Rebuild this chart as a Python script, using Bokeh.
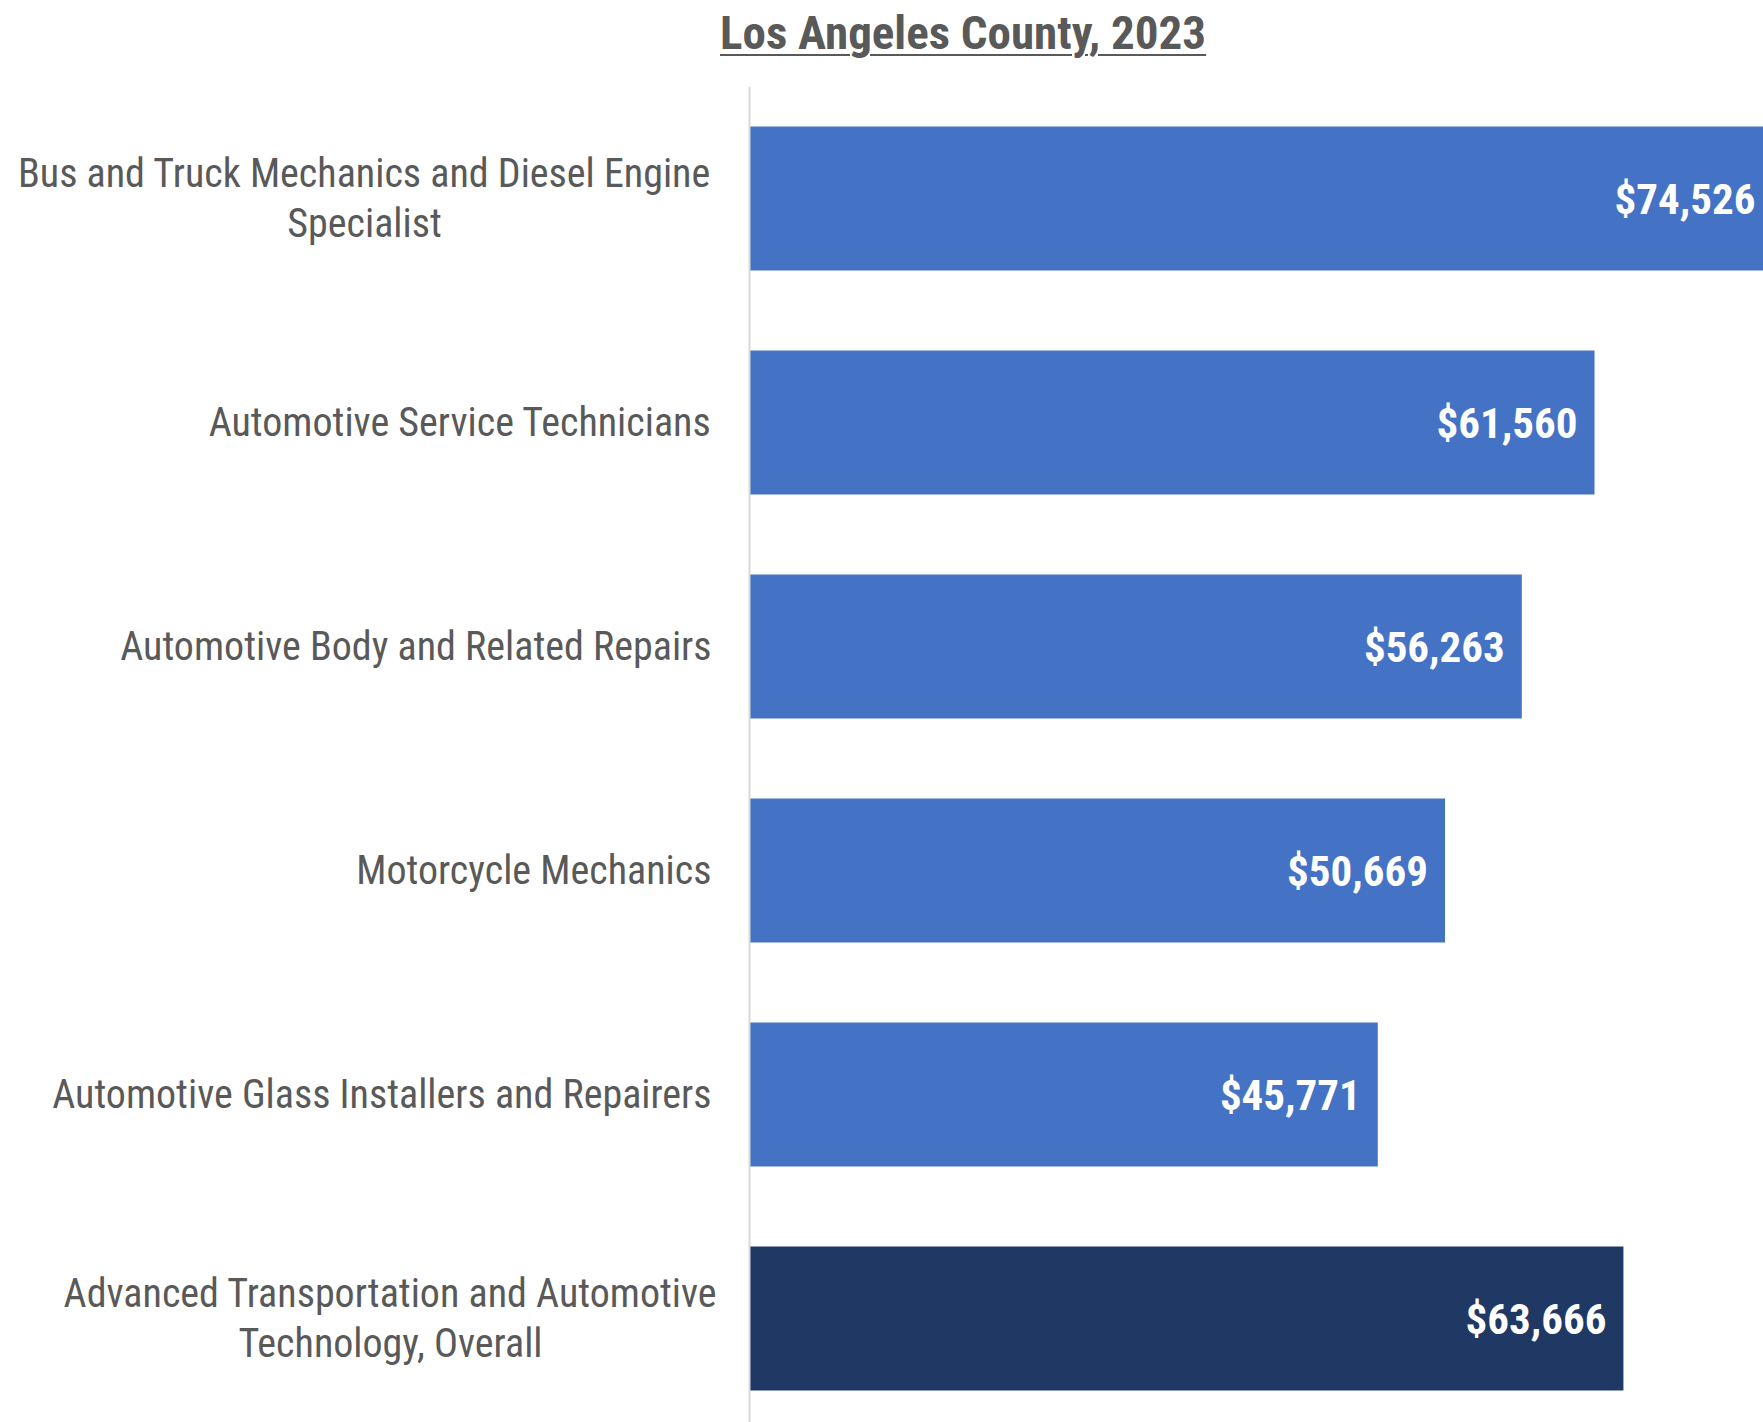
from bokeh.plotting import figure
from bokeh.models import Range1d, ColumnDataSource, Div, Span
from bokeh.layouts import column
from bokeh.core.properties import value
from bokeh.embed import file_html
from bokeh.resources import INLINE

title_text = "Los Angeles County, 2023"
categories = [
    "Bus and Truck Mechanics and Diesel Engine\nSpecialist",
    "Automotive Service Technicians",
    "Automotive Body and Related Repairs",
    "Motorcycle Mechanics",
    "Automotive Glass Installers and Repairers",
    "Advanced Transportation and Automotive\nTechnology, Overall",
]
wages = [74526, 61560, 56263, 50669, 45771, 63666]

FONT = "Roboto Condensed"
BLUE = "#4472C4"
DARK = "#203864"
GREY = "#595959"
LABEL_SIZE = "40px"

idx = list(range(len(categories)))
colors = [BLUE] * (len(categories) - 1) + [DARK]
labels = ["${:,}".format(v) for v in wages]

src = ColumnDataSource(dict(y=idx, right=wages, color=colors, label=labels))

p = figure(width=1763, height=1336, output_backend="svg", toolbar_location=None,
           x_range=Range1d(-54564, 73870), y_range=Range1d(5.464, -0.5),
           x_axis_location=None, y_axis_location=None,
           min_border_left=0, min_border_right=0,
           min_border_top=0, min_border_bottom=0)
p.outline_line_color = None
p.grid.visible = False
p.background_fill_color = "white"

# category axis line
p.add_layout(Span(location=0, dimension="height", line_color="#d9d9d9", line_width=2))

p.hbar(y="y", right="right", left=0, height=0.643, fill_color="color",
       line_color=None, source=src)
p.text(x="right", y="y", text="label", source=src, x_offset=-17,
       text_align="right", text_baseline="middle", text_color="white",
       text_font=value(FONT), text_font_style="bold", text_font_size="43px")

# category labels: single-line right-aligned, two-line as centred blocks
s_idx = [i for i in idx if "\n" not in categories[i]]
m_idx = [i for i in idx if "\n" in categories[i]]
half_first_line = [347, 321]
ssrc = ColumnDataSource(dict(x=[0] * len(s_idx), y=s_idx, text=[categories[i] for i in s_idx]))
msrc = ColumnDataSource(dict(x=[0] * len(m_idx), y=m_idx, text=[categories[i] for i in m_idx],
                             xo=[-38 - h for h in half_first_line]))
p.text(x="x", y="y", text="text", source=ssrc, x_offset=-38, text_align="right",
       text_baseline="middle", text_font=value(FONT), text_font_size=LABEL_SIZE,
       text_color=GREY)
p.text(x="x", y="y", text="text", source=msrc, x_offset="xo", text_align="center",
       text_baseline="middle", text_font=value(FONT), text_font_size=LABEL_SIZE,
       text_color=GREY, text_line_height=1.05)

title = Div(
    text=f'<div style="font-family:\'{FONT}\';font-weight:bold;font-size:47px;'
         f'color:{GREY};text-decoration:underline;text-decoration-thickness:2px;'
         f'text-underline-offset:5px;padding-left:720px;padding-top:9px;line-height:1;">'
         f'{title_text}</div>',
    width=1763, height=86, margin=(0, 0, 0, 0))

layout = column(title, p, spacing=0, margin=(0, 0, 0, 0))
open("out.html", "w").write(file_html(layout, INLINE))
